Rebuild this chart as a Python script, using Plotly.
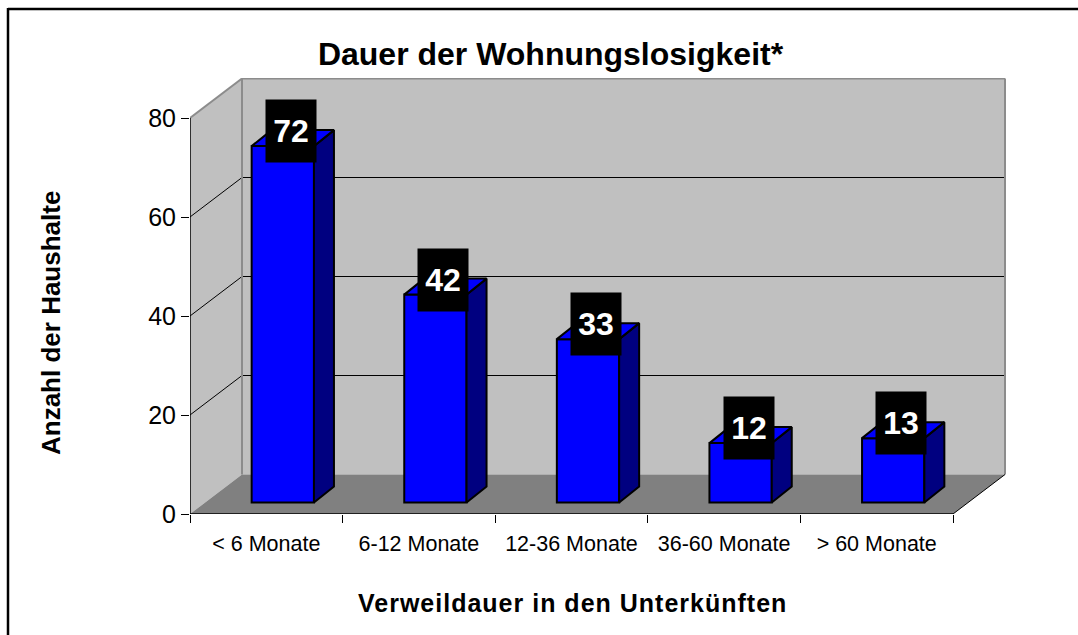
import plotly.graph_objects as go

categories = ["< 6 Monate", "6-12 Monate", "12-36 Monate", "36-60 Monate", "> 60 Monate"]
values = [72, 42, 33, 12, 13]
y_ticks = [0, 20, 40, 60, 80]

W, H = 1078, 635
L, R, T, B = 190, 1006, 78, 514      # plot area in page pixels
PX_X = 152.6                         # pixels per category
PX_Y = 4.95                          # pixels per unit
xmax = (R - L) / PX_X
ymax = (B - T) / PX_Y
dx, dy = 52 / PX_X, 39.5 / PX_Y      # depth of the box
bdx, bdy = 20 / PX_X, 16 / PX_Y      # depth of a bar
ox, oy = 16.5 / PX_X, 11.5 / PX_Y    # offset of bars from the front plane
bw = 62.3 / PX_X
n = len(categories)
WALL, FLOOR, EDGE = "#C0C0C0", "#808080", "#8C8C8C"


def poly(xs, ys, color):
    path = "M" + " L".join(f"{a},{b}" for a, b in zip(xs, ys)) + " Z"
    return dict(type="path", path=path, xref="x", yref="y", layer="below", fillcolor=color, line=dict(width=0))


def seg(x0, y0, x1, y1, color="black", width=1, layer="below"):
    return dict(type="line", x0=x0, y0=y0, x1=x1, y1=y1, xref="x", yref="y", layer=layer,
                line=dict(color=color, width=width))


def page_x(px):
    return (px - L) / (R - L)


def page_y(py):
    return (B - py) / (B - T)


shapes = [
    poly([0, dx, dx, 0], [0, dy, 80 + dy, 80], WALL),
    poly([dx, n + dx, n + dx, dx], [dy, dy, 80 + dy, 80 + dy], WALL),
    poly([0, n, n + dx, dx], [0, 0, dy, dy], FLOOR),
]
for v in y_ticks[1:-1]:
    shapes.append(seg(0, v, dx, v + dy))
    shapes.append(seg(dx, v + dy, n + dx, v + dy))
shapes += [
    seg(0, 80, dx, 80 + dy, EDGE, 2),
    seg(dx, 80 + dy, n + dx, 80 + dy, EDGE, 2),
    seg(dx, dy, dx, 80 + dy, EDGE, 2),
    seg(n + dx, dy, n + dx, 80 + dy, EDGE, 2),
    seg(n, 0, n + dx, dy),
    seg(0, 0, 0, 80, width=1.5, layer="above"),
    seg(0, 0, n, 0, width=1.5, layer="above"),
    dict(type="line", xref="paper", yref="paper", x0=page_x(8), x1=page_x(W), y0=page_y(9), y1=page_y(9),
         line=dict(color="black", width=2.5)),
    dict(type="line", xref="paper", yref="paper", x0=page_x(8), x1=page_x(8), y0=page_y(8), y1=page_y(H),
         line=dict(color="black", width=2.5)),
]

centers = [i + 0.5 + ox for i in range(n)]
fig = go.Figure()
fig.add_trace(go.Bar(x=centers, y=values, base=oy, width=bw,
                     marker=dict(color="#0000FF", line=dict(color="black", width=2)),
                     showlegend=False, hoverinfo="skip"))

side_x, side_y, top_x, top_y = [], [], [], []
for c, v in zip(centers, values):
    l, r, t = c - bw / 2, c + bw / 2, v + oy
    side_x += [r, r + bdx, r + bdx, r, r, None]
    side_y += [oy, oy + bdy, t + bdy, t, oy, None]
    top_x += [l, l + bdx, r + bdx, r, l, None]
    top_y += [t, t + bdy, t + bdy, t, t, None]
for xs, ys, col in ((side_x, side_y, "#000080"), (top_x, top_y, "#0000FF")):
    fig.add_trace(go.Scatter(x=xs, y=ys, mode="lines", fill="toself", fillcolor=col,
                             line=dict(color="black", width=2), showlegend=False, hoverinfo="skip"))

for c, v in zip(centers, values):
    fig.add_annotation(x=c, y=v + oy, text=f"<b>{v}</b>", showarrow=False, xshift=8, yshift=15,
                       width=50, height=62, bgcolor="black", borderpad=0, align="center", valign="middle",
                       font=dict(family="Liberation Sans", size=32, color="white"))

fig.add_annotation(xref="paper", yref="paper", x=page_x(572.5), y=page_y(603), showarrow=False,
                   xanchor="center", yanchor="middle", text="<b>Verweildauer in den Unterkünften</b>",
                   font=dict(size=25))
fig.add_annotation(xref="paper", yref="paper", x=page_x(51), y=page_y(323), showarrow=False, textangle=-90,
                   xanchor="center", yanchor="middle", text="<b>Anzahl der Haushalte</b>",
                   font=dict(size=26))

fig.update_layout(
    width=W, height=H, autosize=False,
    margin=dict(l=L, r=W - R, t=T, b=H - B, pad=0),
    paper_bgcolor="white", plot_bgcolor="white",
    font=dict(family="Liberation Sans", color="black"),
    title=dict(text="<b>Dauer der Wohnungslosigkeit*</b>", x=550.5 / W, y=1 - 54 / H, xanchor="center", yanchor="middle",
               font=dict(size=32, color="black")),
    shapes=shapes,
    xaxis=dict(range=[0, xmax], tickmode="array", tickvals=[i + 0.5 for i in range(n)], ticktext=categories,
               ticks="", showgrid=False, zeroline=False, showline=False, tickfont=dict(size=21.5), ticklabelstandoff=14,
               minor=dict(tickmode="array", tickvals=list(range(n + 1)), ticks="outside", ticklen=8,
                          tickcolor="black", tickwidth=1, showgrid=False)),
    yaxis=dict(range=[0, ymax], tickmode="array", tickvals=y_ticks, ticks="outside", ticklen=8, tickwidth=1,
               tickcolor="black", showgrid=False, zeroline=False, showline=False, tickfont=dict(size=25),
               ticklabelstandoff=0),
)
post = """
document.body.style.margin='0';document.body.style.overflow='hidden';
document.querySelectorAll('.annotation-text').forEach(function(t){
  if(t.textContent.indexOf('Verweildauer')===0){t.style.letterSpacing='1px';}
});
"""
fig.write_html("out.html", post_script=post, config=dict(displayModeBar=False))
